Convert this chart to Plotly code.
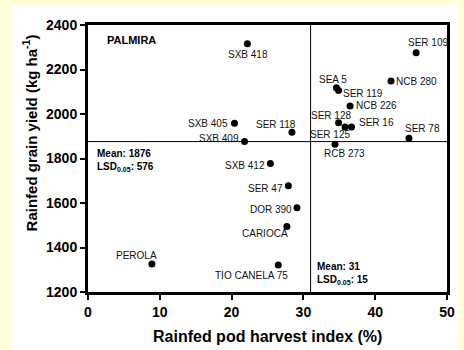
import plotly.graph_objects as go

# ---- data ----
genotypes = ["SXB 418", "SER 109", "NCB 280", "SEA 5", "SER 119", "NCB 226",
             "SER 128", "SER 16", "SER 125", "RCB 273", "SER 78", "SXB 405",
             "SER 118", "SXB 409", "SXB 412", "SER 47", "DOR 390", "CARIOCA",
             "PEROLA", "TIO CANELA 75"]
pod_harvest_index = [22.2, 45.7, 42.2, 34.6, 34.9, 36.5,
                     34.9, 36.7, 35.8, 34.4, 44.7, 20.4,
                     28.4, 21.8, 25.4, 27.9, 29.1, 27.7,
                     8.9, 26.5]
grain_yield = [2316, 2275, 2148, 2118, 2106, 2036,
               1961, 1942, 1942, 1864, 1891, 1958,
               1918, 1876, 1778, 1678, 1579, 1494,
               1326, 1321]
mean_yield, lsd_yield = 1876, 576
mean_phi, lsd_phi = 31, 15
x_ticks = [0, 10, 20, 30, 40, 50]
y_ticks = [1200, 1400, 1600, 1800, 2000, 2200, 2400]

# label placement (style): anchor and pixel shifts
label_style = {
    "SXB 418": ("center", "middle", 1, -11),
    "SER 109": ("center", "middle", 12, 10),
    "NCB 280": ("left", "middle", 3, 0),
    "SEA 5": ("center", "middle", -3, 8),
    "SER 119": ("left", "middle", 2, -3),
    "NCB 226": ("left", "middle", 4, 0),
    "SER 128": ("center", "middle", -8, 7),
    "SER 16": ("left", "middle", 5, 4),
    "SER 125": ("center", "middle", -15, -8),
    "RCB 273": ("center", "middle", 10, -9),
    "SER 78": ("center", "middle", 14, 10),
    "SXB 405": ("right", "middle", -4, 0),
    "SER 118": ("center", "middle", -16, 8),
    "SXB 409": ("right", "middle", -4, 3),
    "SXB 412": ("right", "middle", -3, -2),
    "SER 47": ("right", "middle", -3, -3),
    "DOR 390": ("right", "middle", -3, -2),
    "CARIOCA": ("center", "middle", -22, -7),
    "PEROLA": ("center", "middle", -15, 8),
    "TIO CANELA 75": ("center", "middle", -27, -10),
}

FONT = "Liberation Sans, Arial, sans-serif"

fig = go.Figure()
fig.add_trace(go.Scatter(
    x=pod_harvest_index, y=grain_yield, mode="markers",
    marker=dict(color="black", size=7), hoverinfo="text", text=genotypes,
    showlegend=False,
))

annotations = []
for name, xv, yv in zip(genotypes, pod_harvest_index, grain_yield):
    xa, ya, dx, dy = label_style[name]
    annotations.append(dict(
        x=xv, y=yv, xref="x", yref="y", text=name, showarrow=False,
        xanchor=xa, yanchor=ya, xshift=dx, yshift=dy,
        font=dict(family=FONT, size=10, color="#111"),
    ))

annotations += [
    dict(x=0.048, y=0.942, xref="paper", yref="paper", text="<b>PALMIRA</b>",
         showarrow=False, xanchor="left", yanchor="middle",
         font=dict(family=FONT, size=11, color="black")),
    dict(x=0, y=mean_yield, xref="x", yref="y",
         text=f"<b>Mean: {mean_yield}<br>LSD<sub>0.05</sub>: {lsd_yield}</b>",
         showarrow=False, xanchor="left", yanchor="top", align="left",
         xshift=7, yshift=-4, font=dict(family=FONT, size=10, color="black")),
    dict(x=mean_phi, y=0, xref="x", yref="paper",
         text=f"<b>Mean: {mean_phi}<br>LSD<sub>0.05</sub>: {lsd_phi}</b>",
         showarrow=False, xanchor="left", yanchor="bottom", align="left",
         xshift=4, yshift=4, font=dict(family=FONT, size=10, color="black")),
    dict(x=-0.162, y=0.597, xref="paper", yref="paper",
         text="<b>Rainfed grain yield (kg ha<sup>-1</sup>)</b>", textangle=-90,
         showarrow=False, xanchor="center", yanchor="middle",
         font=dict(family=FONT, size=15, color="black")),
    dict(x=0.5, y=-0.165, xref="paper", yref="paper",
         text="<b>Rainfed pod harvest index (%)</b>",
         showarrow=False, xanchor="center", yanchor="middle",
         font=dict(family=FONT, size=16, color="black")),
]

shapes = [
    dict(type="rect", xref="paper", yref="paper", x0=-0.2136, x1=1.03,
         y0=-0.23, y1=1.075, fillcolor="white", line=dict(width=0),
         layer="below"),
    dict(type="line", xref="x", yref="paper", x0=mean_phi, x1=mean_phi,
         y0=0, y1=1, line=dict(color="black", width=1)),
    dict(type="line", xref="paper", yref="y", x0=0, x1=1,
         y0=mean_yield, y1=mean_yield, line=dict(color="black", width=1)),
]

axis_common = dict(
    showline=True, linewidth=3, linecolor="black", mirror=True,
    ticks="outside", ticklen=5, tickwidth=2, tickcolor="black",
    showgrid=False, zeroline=False,
    tickfont=dict(family=FONT, size=14, color="black", weight="bold"),
)

fig.update_layout(
    width=464, height=350,
    margin=dict(l=87.5, r=9, t=25, b=58),
    paper_bgcolor="#FFFFD9", plot_bgcolor="white",
    xaxis=dict(range=[0, 50], tickvals=x_ticks, **axis_common),
    yaxis=dict(range=[1200, 2400], tickvals=y_ticks, **axis_common),
    annotations=annotations, shapes=shapes,
    font=dict(family=FONT),
)

fig.write_html("out.html",
               config={"displayModeBar": False},
               post_script="document.body.style.margin='0';")
